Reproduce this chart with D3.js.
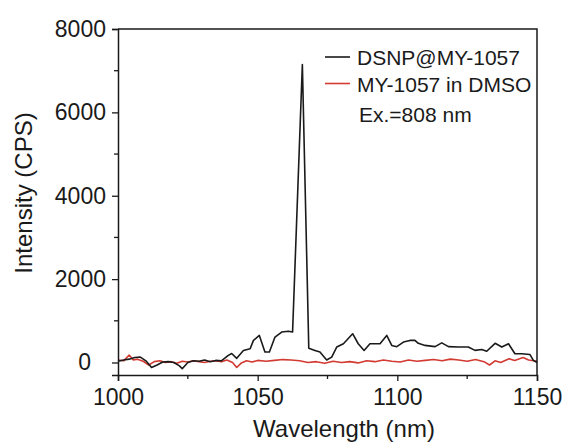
<!DOCTYPE html>
<html>
<head>
<meta charset="utf-8">
<script src="https://cdn.jsdelivr.net/npm/d3@7"></script>
<style>
  body { margin: 0; background: #fff; }
  svg { display: block; font-family: "Liberation Sans", Arial, sans-serif; }
</style>
</head>
<body>
<svg id="chart" width="568" height="444"></svg>
<script>
// DSNP@MY-1057 (black)
const dsnpWave = [1000, 1002, 1004, 1006, 1008, 1010, 1012, 1014, 1016, 1018, 1020, 1022, 1023, 1025, 1027, 1029, 1031, 1033, 1035, 1037,
  1039.5, 1040.7, 1042.5, 1044.9, 1047.3, 1048.5, 1050.6, 1052.6, 1054.2, 1056.2, 1058.6, 1061, 1062.5, 1066, 1068.3, 1070.5, 1072.3,
  1074.7, 1076.5, 1078.3, 1080.7, 1084, 1086, 1088.1, 1090.2, 1093.8, 1096.2, 1098, 1099.8, 1102.2, 1104.5, 1106.3, 1107.5, 1109.9,
  1113.5, 1115.9, 1118.3, 1121.8, 1125.4, 1127.8, 1130.2, 1132, 1135, 1137.4, 1139.8, 1142.1, 1144.5, 1147.5, 1148.7, 1150];
const dsnpCps = [30, 60, 80, 120, 130, 40, -120, -60, 10, 20, 0, -80, -150, 0, 40, 30, 60, 20, 50, 40,
  170, 215, 100, 290, 330, 530, 650, 250, 250, 610, 730, 750, 730, 7150, 340, 290, 250,
  60, 130, 370, 450, 690, 450, 290, 450, 450, 650, 410, 380, 490, 530, 530, 460, 410,
  380, 470, 380, 370, 370, 290, 310, 270, 460, 370, 450, 210, 210, 190, 50, 0];

// MY-1057 in DMSO (red)
const dmsoWave = [1000, 1002, 1004, 1005.5, 1007, 1009, 1011, 1013, 1015, 1017, 1019, 1021, 1023, 1025, 1027, 1029, 1031, 1033, 1035,
  1037, 1039, 1041, 1042.5, 1044, 1046, 1048, 1050, 1053, 1056, 1059, 1062, 1065, 1068, 1071, 1074, 1077, 1080, 1083, 1086, 1089,
  1092, 1095, 1098, 1101, 1104, 1107, 1110, 1113, 1116, 1119, 1122, 1125, 1128, 1131, 1133, 1135, 1137, 1140, 1142, 1145, 1147, 1150];
const dmsoCps = [60, 40, 180, 60, 80, 30, -60, 20, 40, 0, 20, -20, 30, 10, 40, 20, 0, 30, 40,
  20, 60, 0, -120, -20, 40, 10, 50, 30, 50, 70, 60, 40, 0, 20, -20, 30, 0, 20, -10, 40,
  20, 60, 30, 10, 60, 30, 50, 70, 40, 80, 60, 30, 70, 20, -60, 40, 0, 90, 50, 120, 60, 30];

const xMajor = [1000, 1050, 1100, 1150];
const xMinor = [1025, 1075, 1125];
const yMajor = [0, 2000, 4000, 6000, 8000];
const yMinor = [1000, 3000, 5000, 7000];

const seriesNames = ["DSNP@MY-1057", "MY-1057 in DMSO"];
const seriesColors = ["#1a1a1a", "#d23a32"];
const note = "Ex.=808 nm";

const svg = d3.select("#chart");
const margin = { left: 118, right: 537, top: 29, bottom: 375 };

const x = d3.scaleLinear().domain([1000, 1150]).range([margin.left, margin.right]);
const y = d3.scaleLinear().domain([-300, 8000]).range([margin.bottom, margin.top]);

const ink = "#1a1a1a";

// curves (red underneath, black on top)
const line = d3.line().x(d => x(d[0])).y(d => y(d[1]));
const curves = [
  { pts: d3.zip(dmsoWave, dmsoCps), color: seriesColors[1] },
  { pts: d3.zip(dsnpWave, dsnpCps), color: seriesColors[0] },
];
svg.append("g")
  .selectAll("path")
  .data(curves)
  .join("path")
  .attr("d", d => line(d.pts))
  .attr("fill", "none")
  .attr("stroke", d => d.color)
  .attr("stroke-width", 1.6)
  .attr("stroke-linejoin", "round");

// frame top / right
svg.append("path")
  .attr("d", `M${margin.left},${margin.top}H${margin.right}V${margin.bottom}`)
  .attr("fill", "none")
  .attr("stroke", ink)
  .attr("stroke-width", 1.5);

// x axis
const gx = svg.append("g").attr("transform", `translate(0,${margin.bottom})`);
gx.call(d3.axisBottom(x).tickValues(xMajor).tickSize(6).tickPadding(8).tickFormat(d3.format("d")))
  .call(g => g.select(".domain").attr("stroke", ink).attr("stroke-width", 1.5))
  .call(g => g.selectAll(".tick line").attr("stroke", ink).attr("stroke-width", 1.3))
  .call(g => g.selectAll("text").attr("fill", ink).attr("font-size", 23).attr("font-family", null));
gx.selectAll(".minor")
  .data(xMinor)
  .join("line")
  .attr("class", "minor")
  .attr("x1", d => x(d)).attr("x2", d => x(d))
  .attr("y1", 0).attr("y2", 4)
  .attr("stroke", ink).attr("stroke-width", 1.3);

// y axis
const gy = svg.append("g").attr("transform", `translate(${margin.left},0)`);
gy.call(d3.axisLeft(y).tickValues(yMajor).tickSize(6).tickPadding(6).tickFormat(d3.format("d")))
  .call(g => g.select(".domain").attr("stroke", ink).attr("stroke-width", 1.5))
  .call(g => g.selectAll(".tick line").attr("stroke", ink).attr("stroke-width", 1.3))
  .call(g => g.selectAll("text").attr("fill", ink).attr("font-size", 23).attr("font-family", null))
  .call(g => g.selectAll(".tick").filter(d => d === 0).select("text").attr("x", -27));
gy.selectAll(".minor")
  .data(yMinor)
  .join("line")
  .attr("class", "minor")
  .attr("y1", d => y(d)).attr("y2", d => y(d))
  .attr("x1", 0).attr("x2", -4)
  .attr("stroke", ink).attr("stroke-width", 1.3);

// axis titles
svg.append("text")
  .attr("x", 344).attr("y", 437)
  .attr("text-anchor", "middle")
  .attr("font-size", 24)
  .attr("fill", ink)
  .text("Wavelength (nm)");
svg.append("text")
  .attr("transform", "translate(32,193) rotate(-90)")
  .attr("text-anchor", "middle")
  .attr("font-size", 24)
  .attr("fill", ink)
  .text("Intensity (CPS)");

// legend
const legend = svg.append("g").attr("transform", "translate(325,57)");
legend.selectAll("g")
  .data(seriesNames)
  .join("g")
  .attr("transform", (d, i) => `translate(0,${i * 26.5})`)
  .call(g => {
    g.append("line")
      .attr("x1", 0).attr("x2", 25)
      .attr("stroke", (d, i) => seriesColors[i])
      .attr("stroke-width", 1.6);
    g.append("text")
      .attr("x", 32).attr("y", 8)
      .attr("font-size", 21)
      .attr("fill", ink)
      .text(d => d);
  });
legend.append("text")
  .attr("x", 34).attr("y", 65)
  .attr("font-size", 21)
  .attr("fill", ink)
  .text(note);
</script>
</body>
</html>
